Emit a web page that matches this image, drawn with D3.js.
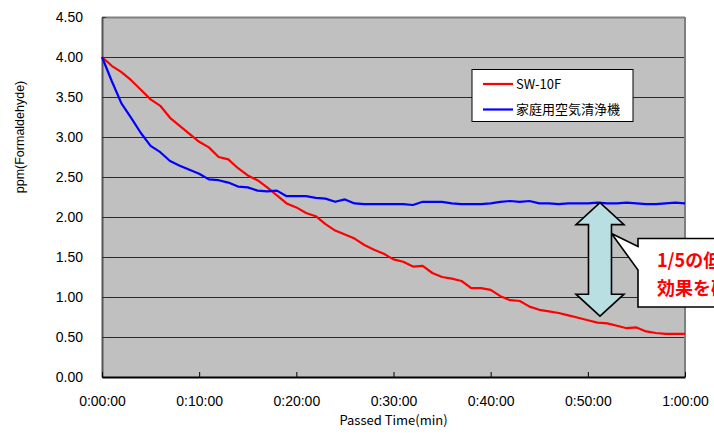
<!DOCTYPE html>
<html>
<head>
<meta charset="utf-8">
<script src="https://cdn.jsdelivr.net/npm/d3@7"></script>
<style>
  html, body { margin: 0; padding: 0; background: #fff; overflow: hidden; }
  svg { display: block; }
</style>
</head>
<body>
<div id="chart"></div>
<script>
// minutes elapsed, one reading per minute
const minutes = d3.range(0, 61)

const sw10f = [4.00, 3.89, 3.81, 3.71, 3.59, 3.47, 3.39, 3.24, 3.14, 3.04,
  2.94, 2.87, 2.75, 2.72, 2.61, 2.52, 2.46, 2.37, 2.27, 2.17,
  2.12, 2.05, 2.01, 1.91, 1.83, 1.78, 1.73, 1.65, 1.59, 1.54,
  1.47, 1.44, 1.38, 1.39, 1.30, 1.25, 1.23, 1.20, 1.11, 1.11,
  1.09, 1.01, 0.96, 0.95, 0.88, 0.84, 0.82, 0.80, 0.77, 0.74,
  0.71, 0.68, 0.67, 0.64, 0.61, 0.62, 0.57, 0.55, 0.54, 0.54, 0.54]

const homeCleaner = [4.00, 3.70, 3.42, 3.24, 3.05, 2.89, 2.81, 2.70, 2.64, 2.59,
  2.54, 2.47, 2.46, 2.43, 2.38, 2.37, 2.33, 2.32, 2.33, 2.26,
  2.26, 2.26, 2.24, 2.23, 2.19, 2.22, 2.17, 2.16, 2.16, 2.16,
  2.16, 2.16, 2.15, 2.19, 2.19, 2.19, 2.17, 2.16, 2.16, 2.16,
  2.17, 2.19, 2.20, 2.19, 2.20, 2.17, 2.17, 2.16, 2.17, 2.17,
  2.17, 2.18, 2.17, 2.17, 2.18, 2.17, 2.16, 2.16, 2.17, 2.18, 2.17]

const seriesNames = ['SW-10F', '家庭用空気清浄機']
const seriesColors = ['#ff0000', '#0000ff']

const xTicks = [0, 10, 20, 30, 40, 50, 60]
const xTickLabels = ['0:00:00', '0:10:00', '0:20:00', '0:30:00', '0:40:00', '0:50:00', '1:00:00']
const yTicks = [0, 0.5, 1, 1.5, 2, 2.5, 3, 3.5, 4, 4.5]

// annotation: double arrow between the two curves, and the callout
const arrowAt = { t: 51.25, top: 2.18, bottom: 0.76 }
const calloutLines = ['1/5の低減', '効果を確認']

const W = 714, H = 438
const m = { top: 17, left: 102, right: 29, bottom: 61 }
const w = W - m.left - m.right
const h = H - m.top - m.bottom

const svg = d3.select('#chart').append('svg')
  .attr('width', W).attr('height', H)

const x = d3.scaleLinear().domain([0, 60]).range([0, w])
const y = d3.scaleLinear().domain([0, 4.5]).range([h, 0])

const g = svg.append('g').attr('transform', `translate(${m.left},${m.top})`)

g.append('rect')
  .attr('width', w).attr('height', h)
  .attr('fill', '#c0c0c0')

// gridlines
g.selectAll('.grid')
  .data(yTicks.filter(d => d > 0 && d < 4.5))
  .enter().append('line')
  .attr('class', 'grid')
  .attr('x1', 0).attr('x2', w)
  .attr('y1', d => Math.round(y(d)) + 0.5)
  .attr('y2', d => Math.round(y(d)) + 0.5)
  .attr('stroke', '#2a2a2a')
  .attr('stroke-width', 1)

// plot border (top / right)
g.append('line').attr('x1', 0).attr('x2', w).attr('y1', 0.5).attr('y2', 0.5)
  .attr('stroke', '#808080').attr('stroke-width', 2)
g.append('line').attr('x1', w).attr('x2', w).attr('y1', 0).attr('y2', h)
  .attr('stroke', '#808080').attr('stroke-width', 2)

// axes
const yAxis = d3.axisLeft(y)
  .tickValues(yTicks)
  .tickFormat(d3.format('.2f'))
  .tickSizeInner(-4).tickSizeOuter(0).tickPadding(19)

const yG = g.append('g').call(yAxis)
yG.select('.domain').attr('stroke', '#555').attr('stroke-width', 2)
yG.selectAll('.tick line').attr('stroke', '#333')
yG.selectAll('text')
  .attr('font-family', 'Liberation Sans, Arial, sans-serif')
  .attr('font-size', 14).attr('fill', '#000')

const xAxis = d3.axisBottom(x)
  .tickValues(xTicks)
  .tickFormat((d, i) => xTickLabels[i])
  .tickSizeInner(-5).tickSizeOuter(0).tickPadding(19)

const xG = g.append('g').attr('transform', `translate(0,${h})`).call(xAxis)
xG.select('.domain').attr('stroke', '#000').attr('stroke-width', 2)
xG.selectAll('.tick line').attr('stroke', '#000')
xG.selectAll('text')
  .attr('font-family', 'Liberation Sans, Arial, sans-serif')
  .attr('font-size', 14).attr('fill', '#000')

// lines
const line = d3.line()
  .x((d, i) => x(minutes[i]))
  .y(d => y(d))

const allSeries = [sw10f, homeCleaner]
g.selectAll('.series')
  .data(allSeries)
  .enter().append('path')
  .attr('class', 'series')
  .attr('d', line)
  .attr('fill', 'none')
  .attr('stroke', (d, i) => seriesColors[i])
  .attr('stroke-width', 2.2)
  .attr('stroke-linejoin', 'round')

// axis titles
svg.append('text')
  .attr('transform', 'translate(24,137) rotate(-90)')
  .attr('text-anchor', 'middle')
  .attr('font-family', 'Liberation Sans, Arial, sans-serif')
  .attr('font-size', 12.5)
  .text('ppm(Formaldehyde)')

svg.append('text')
  .attr('x', m.left + w / 2).attr('y', 425)
  .attr('text-anchor', 'middle')
  .attr('font-family', 'Noto Sans CJK JP, Liberation Sans, sans-serif')
  .attr('font-size', 13)
  .text('Passed Time(min)')

// legend
const leg = svg.append('g').attr('transform', 'translate(472,69.5)')
leg.append('rect')
  .attr('width', 161).attr('height', 52)
  .attr('fill', '#fff').attr('stroke', '#000').attr('stroke-width', 1)
seriesNames.forEach((name, i) => {
  const ly = 14.5 + i * 25.5
  leg.append('line')
    .attr('x1', 11).attr('x2', 41).attr('y1', ly).attr('y2', ly)
    .attr('stroke', seriesColors[i]).attr('stroke-width', 2.2)
  leg.append('text')
    .attr('x', 44).attr('y', ly + 4.5)
    .attr('font-family', 'Noto Sans CJK JP, sans-serif')
    .attr('font-size', 13)
    .text(name)
})

// double arrow
const ax = x(arrowAt.t)
const aTop = y(arrowAt.top), aBot = y(arrowAt.bottom)
const headW = 24, shaftW = 11.5, headH = 22
const arrowPts = [
  [ax, aTop],
  [ax + headW, aTop + headH],
  [ax + shaftW, aTop + headH],
  [ax + shaftW, aBot - headH],
  [ax + headW, aBot - headH],
  [ax, aBot],
  [ax - headW, aBot - headH],
  [ax - shaftW, aBot - headH],
  [ax - shaftW, aTop + headH],
  [ax - headW, aTop + headH]
]
g.append('path')
  .attr('d', d3.line()(arrowPts) + 'Z')
  .attr('fill', '#b9dfe3')
  .attr('stroke', '#000')
  .attr('stroke-width', 1.6)
  .attr('stroke-linejoin', 'miter')

// callout box with pointer to the arrow
const bx = 536, by = 221.5, bh = 68.5
const tipX = ax + shaftW, tipY = 216.5
g.append('path')
  .attr('d', `M${bx},${by} L${W},${by} L${W},${by + bh} L${bx},${by + bh} L${bx},${by + 31.5} L${tipX},${tipY} L${bx},${by + 8} Z`)
  .attr('fill', '#fff')
  .attr('stroke', '#000')
  .attr('stroke-width', 1.6)
  .attr('stroke-linejoin', 'miter')

calloutLines.forEach((t, i) => {
  g.append('text')
    .attr('x', bx + 19).attr('y', by + 28 + i * 28)
    .attr('font-family', 'Noto Sans CJK JP, sans-serif')
    .attr('font-weight', 'bold')
    .attr('font-size', 18)
    .attr('fill', '#ff0000')
    .text(t)
})
</script>
</body>
</html>
